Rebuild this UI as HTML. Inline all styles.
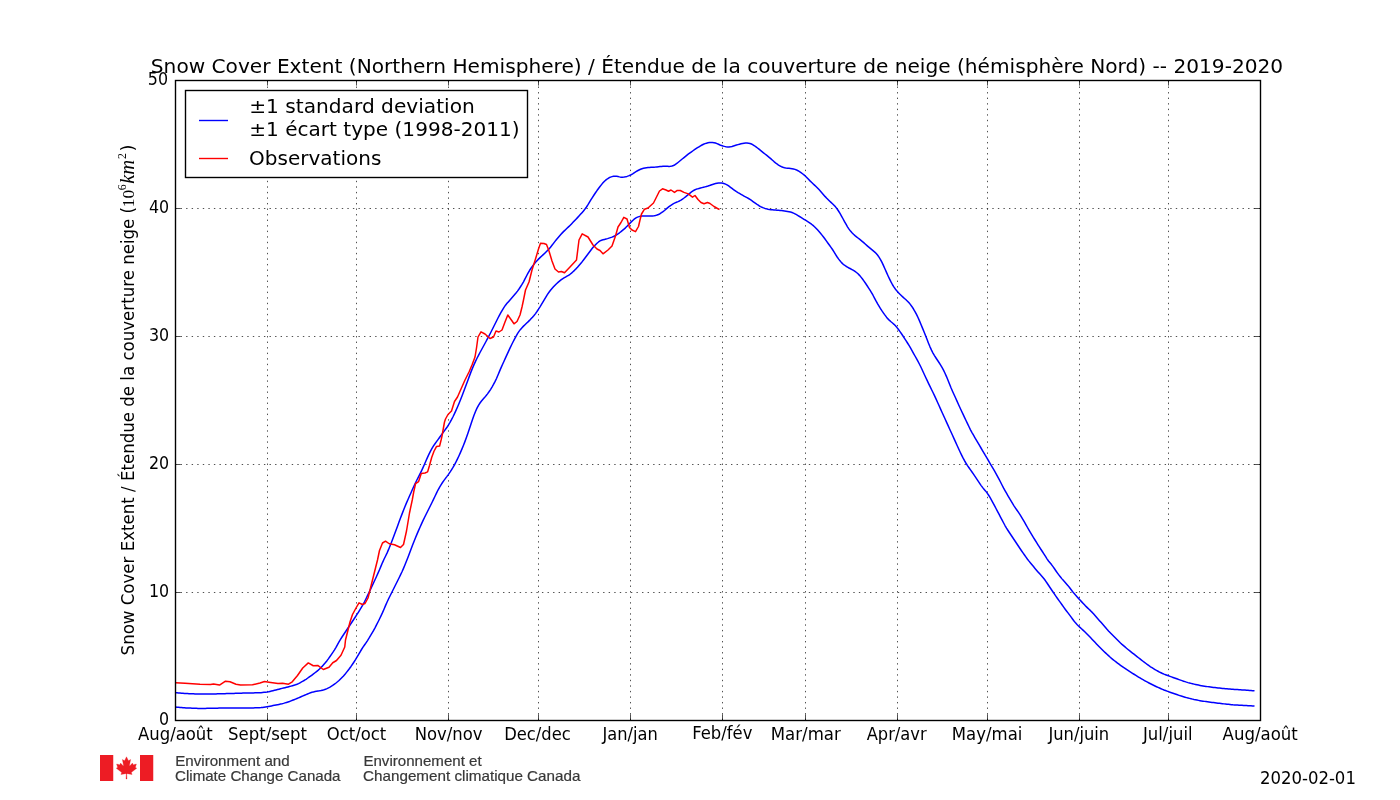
<!DOCTYPE html>
<html lang="en"><head><meta charset="utf-8"><title>Snow Cover Extent (Northern Hemisphere) 2019-2020</title>
<style>
html,body{margin:0;padding:0;background:#fff;}
body{width:1400px;height:800px;overflow:hidden;}
svg{display:block;}
.dv{font-family:"DejaVu Sans","Liberation Sans",sans-serif;fill:#000;}
.tk{font-size:17.8px;}
.ti{font-size:20px;}
.lg{font-size:20px;}
.ms{font-family:"Liberation Serif","DejaVu Serif",serif;}
.ft{font-family:"Liberation Sans","DejaVu Sans",sans-serif;font-size:14.8px;fill:#383838;stroke:#383838;stroke-width:0.2px;}
</style></head><body>
<svg width="1400" height="800" viewBox="0 0 1400 800">
<rect width="1400" height="800" fill="#fff"/>
<defs><clipPath id="ax"><rect x="175" y="80" width="1085" height="640"/></clipPath></defs>
<g stroke="#000" stroke-width="0.69" stroke-dasharray="1.39 4.17" fill="none">
<path d="M267.5 720V80" stroke-dasharray="1.389 4.1555"/>
<path d="M356.5 720V80" stroke-dasharray="1.389 4.1555"/>
<path d="M448.5 720V80" stroke-dasharray="1.389 4.1555"/>
<path d="M538.5 720V80" stroke-dasharray="1.389 4.1555"/>
<path d="M630.5 720V80" stroke-dasharray="1.389 4.1555"/>
<path d="M722.5 720V80" stroke-dasharray="1.389 4.1555"/>
<path d="M805.5 720V80" stroke-dasharray="1.389 4.1555"/>
<path d="M897.5 720V80" stroke-dasharray="1.389 4.1555"/>
<path d="M987.5 720V80" stroke-dasharray="1.389 4.1555"/>
<path d="M1079.5 720V80" stroke-dasharray="1.389 4.1555"/>
<path d="M1168.5 720V80" stroke-dasharray="1.389 4.1555"/>
<path d="M175 592.5H1260"/>
<path d="M175 464.5H1260"/>
<path d="M175 336.5H1260"/>
<path d="M175 208.5H1260"/>
</g>
<g clip-path="url(#ax)" fill="none" stroke-width="1.5" stroke-linejoin="round">
<path stroke="#00f" d="M175.5 692.7 L177 692.83 L178.5 692.95 L180 693.08 L181.5 693.21 L183 693.33 L184.5 693.44 L186 693.53 L187.5 693.6 L189 693.66 L190.5 693.72 L192 693.78 L193.5 693.84 L195 693.9 L196.5 693.96 L198 694.02 L199.5 694.06 L201 694.08 L202.5 694.07 L204 694.06 L205.5 694.04 L207 694.03 L208.5 694.01 L210 694 L211.5 693.98 L213 693.97 L214.5 693.95 L216 693.92 L217.5 693.87 L219 693.83 L220.5 693.78 L222 693.74 L223.5 693.69 L225 693.65 L226.5 693.61 L228 693.56 L229.5 693.52 L231 693.47 L232.5 693.42 L234 693.38 L235.5 693.33 L237 693.29 L238.5 693.25 L240 693.2 L241.5 693.16 L243 693.11 L244.5 693.07 L246 693.03 L247.5 693 L249 692.97 L250.5 692.94 L252 692.91 L253.5 692.88 L255 692.85 L256.5 692.82 L258 692.79 L259.5 692.73 L261 692.63 L262.5 692.5 L264 692.35 L265.5 692.19 L267 692 L268.5 691.73 L270 691.4 L271.5 691.04 L273 690.68 L274.5 690.31 L276 689.94 L277.5 689.55 L279 689.16 L280.5 688.77 L282 688.39 L283.5 688.01 L285 687.65 L286.5 687.29 L288 686.93 L289.5 686.55 L291 686.14 L292.5 685.7 L294 685.25 L295.5 684.78 L297 684.25 L298.5 683.58 L300 682.79 L301.5 681.96 L303 681.11 L304.5 680.23 L306 679.27 L307.5 678.25 L309 677.2 L310.5 676.14 L312 675.06 L313.5 673.93 L315 672.75 L316.5 671.55 L318 670.33 L319.5 669.02 L321 667.53 L322.5 665.89 L324 664.19 L325.5 662.46 L327 660.65 L328.5 658.67 L330 656.54 L331.5 654.36 L333 652.15 L334.5 649.83 L336 647.31 L337.5 644.62 L339 641.93 L340.5 639.38 L342 637.02 L343.5 634.75 L345 632.5 L346.5 630.25 L348 628 L349.5 625.75 L351 623.5 L352.5 621.25 L354 619 L355.5 616.75 L357 614.46 L358.5 612.1 L360 609.66 L361.5 607.15 L363 604.57 L364.5 601.79 L366 598.77 L367.5 595.65 L369 592.5 L370.5 589.35 L372 586.19 L373.5 583.01 L375 579.78 L376.5 576.49 L378 573.15 L379.5 569.69 L381 566.11 L382.5 562.57 L384 559.28 L385.5 556.24 L387 553.12 L388.5 549.67 L390 545.99 L391.5 542.22 L393 538.35 L394.5 534.34 L396 530.25 L397.5 526.14 L399 522.07 L400.5 518.08 L402 514.13 L403.5 510.23 L405 506.46 L406.5 502.89 L408 499.45 L409.5 496.06 L411 492.68 L412.5 489.3 L414 485.97 L415.5 482.77 L417 479.75 L418.5 476.81 L420 473.87 L421.5 470.82 L423 467.61 L424.5 464.27 L426 460.82 L427.5 457.34 L429 454.07 L430.5 451.1 L432 448.38 L433.5 445.91 L435 443.71 L436.5 441.66 L438 439.61 L439.5 437.52 L441 435.43 L442.5 433.36 L444 431.34 L445.5 429.32 L447 427.23 L448.5 424.92 L450 422.37 L451.5 419.65 L453 416.76 L454.5 413.65 L456 410.38 L457.5 406.99 L459 403.43 L460.5 399.72 L462 395.9 L463.5 391.98 L465 388 L466.5 383.99 L468 379.95 L469.5 375.88 L471 371.87 L472.5 368.11 L474 364.64 L475.5 361.35 L477 358.22 L478.5 355.29 L480 352.5 L481.5 349.75 L483 347 L484.5 344.25 L486 341.5 L487.5 338.73 L489 335.9 L490.5 332.98 L492 330 L493.5 327 L495 324 L496.5 321 L498 318.02 L499.5 315.11 L501 312.37 L502.5 309.78 L504 307.33 L505.5 305.18 L507 303.34 L508.5 301.65 L510 299.97 L511.5 298.28 L513 296.57 L514.5 294.85 L516 293.06 L517.5 291.12 L519 288.98 L520.5 286.73 L522 284.39 L523.5 281.81 L525 278.97 L526.5 276.01 L528 273.13 L529.5 270.53 L531 268.24 L532.5 266.14 L534 264.17 L535.5 262.37 L537 260.69 L538.5 259.12 L540 257.66 L541.5 256.27 L543 254.89 L544.5 253.47 L546 251.99 L547.5 250.49 L549 248.93 L550.5 247.21 L552 245.31 L553.5 243.34 L555 241.37 L556.5 239.48 L558 237.68 L559.5 235.92 L561 234.22 L562.5 232.62 L564 231.14 L565.5 229.72 L567 228.31 L568.5 226.89 L570 225.43 L571.5 223.91 L573 222.35 L574.5 220.77 L576 219.2 L577.5 217.62 L579 216.02 L580.5 214.37 L582 212.66 L583.5 210.9 L585 209.06 L586.5 206.98 L588 204.64 L589.5 202.17 L591 199.7 L592.5 197.31 L594 195.01 L595.5 192.76 L597 190.56 L598.5 188.47 L600 186.52 L601.5 184.64 L603 182.85 L604.5 181.27 L606 179.93 L607.5 178.76 L609 177.8 L610.5 177.11 L612 176.63 L613.5 176.31 L615 176.22 L616.5 176.34 L618 176.57 L619.5 176.88 L621 177.15 L622.5 177.23 L624 177.07 L625.5 176.78 L627 176.4 L628.5 175.91 L630 175.3 L631.5 174.53 L633 173.58 L634.5 172.57 L636 171.62 L637.5 170.77 L639 170.01 L640.5 169.29 L642 168.7 L643.5 168.29 L645 168.01 L646.5 167.77 L648 167.57 L649.5 167.45 L651 167.37 L652.5 167.3 L654 167.22 L655.5 167.11 L657 166.94 L658.5 166.76 L660 166.58 L661.5 166.41 L663 166.3 L664.5 166.28 L666 166.31 L667.5 166.37 L669 166.4 L670.5 166.33 L672 166.03 L673.5 165.5 L675 164.73 L676.5 163.69 L678 162.49 L679.5 161.25 L681 160.01 L682.5 158.78 L684 157.56 L685.5 156.34 L687 155.13 L688.5 153.95 L690 152.84 L691.5 151.78 L693 150.75 L694.5 149.72 L696 148.71 L697.5 147.73 L699 146.81 L700.5 145.9 L702 145.02 L703.5 144.23 L705 143.62 L706.5 143.17 L708 142.82 L709.5 142.6 L711 142.52 L712.5 142.54 L714 142.7 L715.5 143.06 L717 143.6 L718.5 144.26 L720 144.95 L721.5 145.54 L723 146 L724.5 146.39 L726 146.7 L727.5 146.92 L729 147 L730.5 146.86 L732 146.49 L733.5 146.01 L735 145.53 L736.5 145.08 L738 144.65 L739.5 144.24 L741 143.85 L742.5 143.51 L744 143.22 L745.5 143.03 L747 143.02 L748.5 143.17 L750 143.47 L751.5 144 L753 144.79 L754.5 145.76 L756 146.84 L757.5 148 L759 149.2 L760.5 150.4 L762 151.6 L763.5 152.8 L765 154 L766.5 155.2 L768 156.41 L769.5 157.64 L771 158.92 L772.5 160.25 L774 161.56 L775.5 162.81 L777 163.97 L778.5 165.04 L780 165.97 L781.5 166.69 L783 167.26 L784.5 167.72 L786 168.02 L787.5 168.2 L789 168.34 L790.5 168.5 L792 168.73 L793.5 169.01 L795 169.39 L796.5 169.95 L798 170.73 L799.5 171.63 L801 172.62 L802.5 173.73 L804 174.92 L805.5 176.22 L807 177.69 L808.5 179.29 L810 180.87 L811.5 182.32 L813 183.7 L814.5 185.09 L816 186.52 L817.5 188.01 L819 189.54 L820.5 191.18 L822 192.91 L823.5 194.68 L825 196.38 L826.5 197.98 L828 199.49 L829.5 200.95 L831 202.35 L832.5 203.72 L834 205.18 L835.5 206.84 L837 208.78 L838.5 211 L840 213.44 L841.5 216.03 L843 218.76 L844.5 221.52 L846 224.21 L847.5 226.8 L849 229.13 L850.5 231.1 L852 232.8 L853.5 234.28 L855 235.58 L856.5 236.8 L858 238 L859.5 239.2 L861 240.41 L862.5 241.64 L864 242.92 L865.5 244.25 L867 245.58 L868.5 246.86 L870 248.09 L871.5 249.31 L873 250.55 L874.5 251.84 L876 253.26 L877.5 254.99 L879 257.08 L880.5 259.53 L882 262.42 L883.5 265.65 L885 269 L886.5 272.37 L888 275.69 L889.5 278.9 L891 281.94 L892.5 284.74 L894 287.14 L895.5 289.22 L897 291.11 L898.5 292.81 L900 294.31 L901.5 295.71 L903 297.08 L904.5 298.44 L906 299.8 L907.5 301.21 L909 302.78 L910.5 304.63 L912 306.71 L913.5 309.02 L915 311.56 L916.5 314.35 L918 317.47 L919.5 320.91 L921 324.5 L922.5 328.12 L924 331.73 L925.5 335.45 L927 339.32 L928.5 343.17 L930 346.84 L931.5 350.16 L933 353.05 L934.5 355.62 L936 357.98 L937.5 360.25 L939 362.51 L940.5 364.81 L942 367.3 L943.5 370.1 L945 373.21 L946.5 376.58 L948 380.2 L949.5 383.98 L951 387.71 L952.5 391.19 L954 394.51 L955.5 397.81 L957 401.12 L958.5 404.44 L960 407.75 L961.5 411 L963 414.19 L964.5 417.35 L966 420.5 L967.5 423.65 L969 426.78 L970.5 429.8 L972 432.61 L973.5 435.24 L975 437.8 L976.5 440.35 L978 442.9 L979.5 445.45 L981 448 L982.5 450.55 L984 453.1 L985.5 455.65 L987 458.2 L988.5 460.75 L990 463.3 L991.5 465.85 L993 468.4 L994.5 470.97 L996 473.59 L997.5 476.31 L999 479.13 L1000.5 482.03 L1002 484.99 L1003.5 487.89 L1005 490.63 L1006.5 493.24 L1008 495.8 L1009.5 498.35 L1011 500.9 L1012.5 503.42 L1014 505.83 L1015.5 508.09 L1017 510.25 L1018.5 512.41 L1020 514.67 L1021.5 517.08 L1023 519.61 L1024.5 522.19 L1026 524.82 L1027.5 527.5 L1029 530.16 L1030.5 532.72 L1032 535.19 L1033.5 537.6 L1035 540 L1036.5 542.4 L1038 544.79 L1039.5 547.16 L1041 549.48 L1042.5 551.76 L1044 554.06 L1045.5 556.47 L1047 558.86 L1048.5 560.96 L1050 562.78 L1051.5 564.59 L1053 566.59 L1054.5 568.76 L1056 570.96 L1057.5 573.07 L1059 575.09 L1060.5 577.02 L1062 578.87 L1063.5 580.6 L1065 582.25 L1066.5 583.91 L1068 585.65 L1069.5 587.53 L1071 589.5 L1072.5 591.47 L1074 593.35 L1075.5 595.09 L1077 596.75 L1078.5 598.37 L1080 600 L1081.5 601.62 L1083 603.25 L1084.5 604.85 L1086 606.4 L1087.5 607.85 L1089 609.25 L1090.5 610.66 L1092 612.15 L1093.5 613.78 L1095 615.5 L1096.5 617.24 L1098 618.96 L1099.5 620.64 L1101 622.31 L1102.5 624 L1104 625.75 L1105.5 627.55 L1107 629.31 L1108.5 630.95 L1110 632.49 L1111.5 634 L1113 635.5 L1114.5 637 L1116 638.5 L1117.5 640 L1119 641.49 L1120.5 642.95 L1122 644.33 L1123.5 645.64 L1125 646.93 L1126.5 648.21 L1128 649.46 L1129.5 650.67 L1131 651.86 L1132.5 653.04 L1134 654.21 L1135.5 655.39 L1137 656.57 L1138.5 657.75 L1140 658.93 L1141.5 660.09 L1143 661.24 L1144.5 662.37 L1146 663.5 L1147.5 664.62 L1149 665.72 L1150.5 666.76 L1152 667.72 L1153.5 668.65 L1155 669.56 L1156.5 670.45 L1158 671.27 L1159.5 672.05 L1161 672.79 L1162.5 673.5 L1164 674.14 L1165.5 674.71 L1167 675.27 L1168.5 675.81 L1170 676.36 L1171.5 676.89 L1173 677.43 L1174.5 677.97 L1176 678.51 L1177.5 679.06 L1179 679.62 L1180.5 680.15 L1182 680.66 L1183.5 681.17 L1185 681.66 L1186.5 682.15 L1188 682.6 L1189.5 683 L1191 683.39 L1192.5 683.77 L1194 684.13 L1195.5 684.48 L1197 684.8 L1198.5 685.1 L1200 685.4 L1201.5 685.69 L1203 685.95 L1204.5 686.19 L1206 686.41 L1207.5 686.63 L1209 686.85 L1210.5 687.05 L1212 687.24 L1213.5 687.42 L1215 687.6 L1216.5 687.78 L1218 687.94 L1219.5 688.1 L1221 688.25 L1222.5 688.4 L1224 688.55 L1225.5 688.68 L1227 688.81 L1228.5 688.93 L1230 689.05 L1231.5 689.17 L1233 689.28 L1234.5 689.4 L1236 689.51 L1237.5 689.62 L1239 689.72 L1240.5 689.82 L1242 689.91 L1243.5 689.99 L1245 690.07 L1246.5 690.16 L1248 690.26 L1249.5 690.39 L1251 690.54 L1252.5 690.68 L1254 690.82 L1254.5 690.87"/>
<path stroke="#00f" d="M175.5 707 L177 707.14 L178.5 707.28 L180 707.43 L181.5 707.57 L183 707.71 L184.5 707.83 L186 707.93 L187.5 708 L189 708.06 L190.5 708.12 L192 708.18 L193.5 708.24 L195 708.3 L196.5 708.36 L198 708.42 L199.5 708.46 L201 708.47 L202.5 708.45 L204 708.42 L205.5 708.39 L207 708.36 L208.5 708.33 L210 708.3 L211.5 708.27 L213 708.24 L214.5 708.21 L216 708.18 L217.5 708.15 L219 708.12 L220.5 708.09 L222 708.06 L223.5 708.03 L225 708 L226.5 707.97 L228 707.94 L229.5 707.92 L231 707.92 L232.5 707.93 L234 707.94 L235.5 707.96 L237 707.97 L238.5 707.98 L240 708 L241.5 708.01 L243 708.03 L244.5 708.03 L246 708.02 L247.5 708 L249 707.97 L250.5 707.94 L252 707.91 L253.5 707.88 L255 707.85 L256.5 707.82 L258 707.78 L259.5 707.71 L261 707.58 L262.5 707.4 L264 707.19 L265.5 706.98 L267 706.75 L268.5 706.49 L270 706.2 L271.5 705.9 L273 705.6 L274.5 705.3 L276 705 L277.5 704.7 L279 704.4 L280.5 704.09 L282 703.75 L283.5 703.35 L285 702.9 L286.5 702.42 L288 701.94 L289.5 701.43 L291 700.88 L292.5 700.3 L294 699.7 L295.5 699.1 L297 698.48 L298.5 697.85 L300 697.2 L301.5 696.54 L303 695.88 L304.5 695.24 L306 694.61 L307.5 694 L309 693.4 L310.5 692.81 L312 692.29 L313.5 691.89 L315 691.61 L316.5 691.36 L318 691.11 L319.5 690.85 L321 690.53 L322.5 690.17 L324 689.78 L325.5 689.31 L327 688.68 L328.5 687.92 L330 687.09 L331.5 686.2 L333 685.21 L334.5 684.12 L336 682.98 L337.5 681.78 L339 680.44 L340.5 678.99 L342 677.48 L343.5 675.91 L345 674.19 L346.5 672.37 L348 670.48 L349.5 668.53 L351 666.44 L352.5 664.24 L354 661.98 L355.5 659.66 L357 657.19 L358.5 654.62 L360 652.02 L361.5 649.5 L363 647.16 L364.5 644.97 L366 642.82 L367.5 640.6 L369 638.22 L370.5 635.71 L372 633.14 L373.5 630.54 L375 627.83 L376.5 624.97 L378 622 L379.5 618.99 L381 615.91 L382.5 612.65 L384 609.18 L385.5 605.65 L387 602.24 L388.5 599.05 L390 596 L391.5 593 L393 590 L394.5 587 L396 584 L397.5 581 L399 578 L400.5 574.95 L402 571.76 L403.5 568.35 L405 564.77 L406.5 561.07 L408 557.18 L409.5 553.15 L411 549.15 L412.5 545.28 L414 541.51 L415.5 537.78 L417 534.15 L418.5 530.66 L420 527.26 L421.5 523.91 L423 520.65 L424.5 517.53 L426 514.5 L427.5 511.5 L429 508.5 L430.5 505.5 L432 502.48 L433.5 499.4 L435 496.24 L436.5 493.07 L438 490.04 L439.5 487.31 L441 484.84 L442.5 482.52 L444 480.35 L445.5 478.35 L447 476.4 L448.5 474.35 L450 472.13 L451.5 469.8 L453 467.38 L454.5 464.79 L456 461.95 L457.5 458.94 L459 455.77 L460.5 452.41 L462 448.88 L463.5 445.21 L465 441.39 L466.5 437.31 L468 432.97 L469.5 428.5 L471 424.01 L472.5 419.57 L474 415.34 L475.5 411.49 L477 408.1 L478.5 405.3 L480 403.03 L481.5 401.08 L483 399.32 L484.5 397.62 L486 395.82 L487.5 393.86 L489 391.77 L490.5 389.55 L492 387.11 L493.5 384.47 L495 381.64 L496.5 378.49 L498 374.98 L499.5 371.36 L501 367.87 L502.5 364.51 L504 361.2 L505.5 357.9 L507 354.6 L508.5 351.32 L510 348.12 L511.5 345.03 L513 342.02 L514.5 339.09 L516 336.31 L517.5 333.71 L519 331.37 L520.5 329.39 L522 327.68 L523.5 326.12 L525 324.68 L526.5 323.29 L528 321.88 L529.5 320.4 L531 318.82 L532.5 317.2 L534 315.49 L535.5 313.59 L537 311.47 L538.5 309.22 L540 306.85 L541.5 304.35 L543 301.78 L544.5 299.26 L546 296.81 L547.5 294.45 L549 292.26 L550.5 290.3 L552 288.51 L553.5 286.79 L555 285.18 L556.5 283.75 L558 282.43 L559.5 281.15 L561 279.92 L562.5 278.83 L564 277.89 L565.5 277.03 L567 276.18 L568.5 275.3 L570 274.29 L571.5 273.08 L573 271.74 L574.5 270.34 L576 268.85 L577.5 267.22 L579 265.5 L580.5 263.73 L582 261.9 L583.5 259.98 L585 258 L586.5 256 L588 254 L589.5 252 L591 250 L592.5 248.05 L594 246.25 L595.5 244.68 L597 243.26 L598.5 241.96 L600 240.9 L601.5 240.22 L603 239.78 L604.5 239.41 L606 239.02 L607.5 238.6 L609 238.14 L610.5 237.65 L612 237.14 L613.5 236.54 L615 235.76 L616.5 234.82 L618 233.82 L619.5 232.77 L621 231.63 L622.5 230.41 L624 229.15 L625.5 227.82 L627 226.34 L628.5 224.75 L630 223.14 L631.5 221.63 L633 220.22 L634.5 218.92 L636 217.86 L637.5 217.12 L639 216.63 L640.5 216.26 L642 216.07 L643.5 216.01 L645 216 L646.5 216.01 L648 216.04 L649.5 216.08 L651 216.11 L652.5 216.06 L654 215.85 L655.5 215.48 L657 215.04 L658.5 214.48 L660 213.71 L661.5 212.73 L663 211.65 L664.5 210.47 L666 209.19 L667.5 207.88 L669 206.64 L670.5 205.54 L672 204.54 L673.5 203.63 L675 202.88 L676.5 202.25 L678 201.65 L679.5 200.97 L681 200.1 L682.5 199.09 L684 197.99 L685.5 196.82 L687 195.57 L688.5 194.31 L690 193.09 L691.5 191.97 L693 190.93 L694.5 190.01 L696 189.33 L697.5 188.85 L699 188.43 L700.5 188.04 L702 187.64 L703.5 187.26 L705 186.87 L706.5 186.47 L708 186.04 L709.5 185.54 L711 185 L712.5 184.47 L714 183.99 L715.5 183.59 L717 183.26 L718.5 183.02 L720 182.93 L721.5 183 L723 183.23 L724.5 183.68 L726 184.35 L727.5 185.17 L729 186.17 L730.5 187.3 L732 188.44 L733.5 189.54 L735 190.59 L736.5 191.61 L738 192.56 L739.5 193.45 L741 194.33 L742.5 195.19 L744 196.03 L745.5 196.86 L747 197.67 L748.5 198.51 L750 199.42 L751.5 200.43 L753 201.52 L754.5 202.62 L756 203.69 L757.5 204.74 L759 205.73 L760.5 206.59 L762 207.28 L763.5 207.88 L765 208.41 L766.5 208.84 L768 209.21 L769.5 209.52 L771 209.73 L772.5 209.87 L774 209.99 L775.5 210.09 L777 210.21 L778.5 210.33 L780 210.46 L781.5 210.59 L783 210.73 L784.5 210.91 L786 211.14 L787.5 211.39 L789 211.67 L790.5 212.05 L792 212.53 L793.5 213.12 L795 213.86 L796.5 214.71 L798 215.6 L799.5 216.51 L801 217.42 L802.5 218.34 L804 219.27 L805.5 220.19 L807 221.13 L808.5 222.08 L810 223.1 L811.5 224.22 L813 225.42 L814.5 226.71 L816 228.17 L817.5 229.76 L819 231.44 L820.5 233.23 L822 235.11 L823.5 237.06 L825 239.06 L826.5 241.11 L828 243.2 L829.5 245.28 L831 247.34 L832.5 249.49 L834 251.84 L835.5 254.33 L837 256.73 L838.5 258.89 L840 260.86 L841.5 262.62 L843 264.07 L844.5 265.23 L846 266.25 L847.5 267.17 L849 267.99 L850.5 268.75 L852 269.54 L853.5 270.43 L855 271.42 L856.5 272.51 L858 273.8 L859.5 275.36 L861 277.12 L862.5 279.01 L864 281.07 L865.5 283.26 L867 285.52 L868.5 287.84 L870 290.21 L871.5 292.65 L873 295.24 L874.5 298.04 L876 300.92 L877.5 303.65 L879 306.17 L880.5 308.57 L882 310.88 L883.5 313.07 L885 315.17 L886.5 317.15 L888 318.9 L889.5 320.41 L891 321.76 L892.5 323.01 L894 324.31 L895.5 325.84 L897 327.63 L898.5 329.58 L900 331.62 L901.5 333.77 L903 336.01 L904.5 338.29 L906 340.62 L907.5 343.01 L909 345.44 L910.5 347.98 L912 350.61 L913.5 353.3 L915 356 L916.5 358.7 L918 361.42 L919.5 364.25 L921 367.29 L922.5 370.51 L924 373.78 L925.5 377.01 L927 380.19 L928.5 383.34 L930 386.44 L931.5 389.49 L933 392.54 L934.5 395.68 L936 398.92 L937.5 402.23 L939 405.55 L940.5 408.88 L942 412.2 L943.5 415.5 L945 418.8 L946.5 422.1 L948 425.4 L949.5 428.7 L951 432 L952.5 435.3 L954 438.6 L955.5 441.9 L957 445.2 L958.5 448.49 L960 451.76 L961.5 454.92 L963 457.91 L964.5 460.7 L966 463.25 L967.5 465.6 L969 467.78 L970.5 469.91 L972 472.03 L973.5 474.19 L975 476.37 L976.5 478.57 L978 480.82 L979.5 483.1 L981 485.34 L982.5 487.38 L984 489.18 L985.5 490.91 L987 492.81 L988.5 495.01 L990 497.44 L991.5 500.05 L993 502.82 L994.5 505.65 L996 508.5 L997.5 511.35 L999 514.2 L1000.5 517.05 L1002 519.9 L1003.5 522.74 L1005 525.51 L1006.5 528.1 L1008 530.48 L1009.5 532.75 L1011 535 L1012.5 537.25 L1014 539.5 L1015.5 541.75 L1017 544 L1018.5 546.25 L1020 548.49 L1021.5 550.72 L1023 552.9 L1024.5 555.04 L1026 557.15 L1027.5 559.21 L1029 561.15 L1030.5 562.99 L1032 564.8 L1033.5 566.6 L1035 568.4 L1036.5 570.19 L1038 571.93 L1039.5 573.61 L1041 575.25 L1042.5 576.93 L1044 578.75 L1045.5 580.8 L1047 583 L1048.5 585.25 L1050 587.5 L1051.5 589.75 L1053 591.98 L1054.5 594.18 L1056 596.33 L1057.5 598.46 L1059 600.58 L1060.5 602.69 L1062 604.8 L1063.5 606.89 L1065 608.94 L1066.5 610.94 L1068 612.9 L1069.5 614.89 L1071 616.92 L1072.5 618.99 L1074 621.01 L1075.5 622.85 L1077 624.47 L1078.5 625.98 L1080 627.4 L1081.5 628.75 L1083 630.1 L1084.5 631.52 L1086 633 L1087.5 634.5 L1089 636.02 L1090.5 637.56 L1092 639.15 L1093.5 640.75 L1095 642.35 L1096.5 643.94 L1098 645.48 L1099.5 647 L1101 648.5 L1102.5 649.99 L1104 651.46 L1105.5 652.88 L1107 654.28 L1108.5 655.67 L1110 657.04 L1111.5 658.34 L1113 659.56 L1114.5 660.75 L1116 661.92 L1117.5 663.08 L1119 664.2 L1120.5 665.28 L1122 666.36 L1123.5 667.42 L1125 668.46 L1126.5 669.46 L1128 670.43 L1129.5 671.39 L1131 672.35 L1132.5 673.31 L1134 674.25 L1135.5 675.19 L1137 676.12 L1138.5 677.05 L1140 677.96 L1141.5 678.84 L1143 679.69 L1144.5 680.53 L1146 681.37 L1147.5 682.2 L1149 682.99 L1150.5 683.75 L1152 684.5 L1153.5 685.25 L1155 685.99 L1156.5 686.7 L1158 687.37 L1159.5 688.03 L1161 688.69 L1162.5 689.34 L1164 689.96 L1165.5 690.54 L1167 691.1 L1168.5 691.65 L1170 692.19 L1171.5 692.72 L1173 693.25 L1174.5 693.77 L1176 694.3 L1177.5 694.82 L1179 695.34 L1180.5 695.83 L1182 696.28 L1183.5 696.73 L1185 697.17 L1186.5 697.6 L1188 698.01 L1189.5 698.39 L1191 698.76 L1192.5 699.13 L1194 699.49 L1195.5 699.81 L1197 700.11 L1198.5 700.38 L1200 700.65 L1201.5 700.91 L1203 701.15 L1204.5 701.38 L1206 701.59 L1207.5 701.8 L1209 702.01 L1210.5 702.21 L1212 702.4 L1213.5 702.59 L1215 702.78 L1216.5 702.97 L1218 703.16 L1219.5 703.34 L1221 703.52 L1222.5 703.7 L1224 703.88 L1225.5 704.05 L1227 704.21 L1228.5 704.37 L1230 704.53 L1231.5 704.68 L1233 704.81 L1234.5 704.9 L1236 704.99 L1237.5 705.07 L1239 705.15 L1240.5 705.23 L1242 705.31 L1243.5 705.39 L1245 705.47 L1246.5 705.55 L1248 705.64 L1249.5 705.74 L1251 705.84 L1252.5 705.94 L1254 706.05 L1254.5 706.08"/>
<path stroke="#f00" d="M175.5 682.7 L185 683.3 L200 684.2 L210.5 684.5 L213.5 683.9 L219.5 685.1 L225.5 681.2 L230 681.8 L236 684.2 L240.5 684.95 L252.5 684.8 L260 683 L264.5 681.5 L269 682.25 L278 683.6 L282.5 683.3 L288.5 684.2 L292.25 681.8 L297.5 675.5 L302.75 668 L308.3 662.9 L313.25 665.75 L317.75 665.45 L323.3 669.5 L329 667.25 L332.75 662.75 L336.5 660.5 L341 655.25 L344.75 647 L345.5 640 L348 630 L350 622 L352.5 614.5 L356 608 L359 602.8 L362.5 604.5 L365 603.5 L368 598 L370 590 L373 578 L375.5 568 L377.5 560 L379.5 550.5 L382.5 543 L385.5 541.2 L389.25 543.75 L394.5 544.8 L400.5 547.5 L403.5 544.5 L406.5 531 L409.5 513 L412.25 500 L413.75 491.75 L415.6 483.5 L418.6 481.6 L421.25 473.4 L425 473 L427.6 471.9 L429.5 465.5 L431.75 457.25 L434 451.25 L436.6 446.4 L439.6 446 L441.1 440 L442 436 L444.5 422 L445.5 419 L448 414.5 L451.5 411 L454.5 401.5 L457.5 397 L461 389 L465 380 L469 372 L472 365 L475 357 L476.5 348 L478 337 L481 331.8 L485 334 L490 338.5 L493.5 337 L496 331 L499 332 L502 330 L505 322 L507.8 315 L511 319.5 L514 323.8 L517 321.5 L520 315 L522 307 L523.5 300 L525.5 290 L529 282 L532 270 L535.5 259 L538.5 249 L540.5 243.2 L544 243.5 L546.5 244.5 L549 251 L552 261 L555 269 L558.5 272 L561.5 271.5 L564.5 272.8 L570 267 L576.5 260 L579 240 L582.2 233.8 L588 237 L593 245 L597 249 L600 250.5 L603 253.8 L608 250 L612 246 L615.5 236 L618 227 L621 222.5 L623.8 217.3 L627 219 L629.5 227.5 L632 230 L635.5 231.7 L638.5 226.5 L640 220 L641.5 214 L644.5 209.2 L648 208 L653.5 203 L656.5 197 L659.5 191 L662.5 188.8 L666 190 L668.5 191.2 L671 190 L674.5 192.4 L677.3 190.4 L680.3 190.5 L684 192.4 L688.3 193.9 L692.5 197.2 L695 195.5 L698 199.5 L701 202.5 L704 203.8 L707.5 202.5 L710 203.5 L714 206.5 L717.5 208.5 L719.5 209.5"/>
</g>
<rect x="175.5" y="80.5" width="1085" height="640" fill="none" stroke="#000" stroke-width="1.39"/>
<g stroke="#000" stroke-width="0.69">
<path d="M175.5 720v-5.56 M175.5 80v5.56"/>
<path d="M267.5 720v-5.56 M267.5 80v5.56"/>
<path d="M356.5 720v-5.56 M356.5 80v5.56"/>
<path d="M448.5 720v-5.56 M448.5 80v5.56"/>
<path d="M538.5 720v-5.56 M538.5 80v5.56"/>
<path d="M630.5 720v-5.56 M630.5 80v5.56"/>
<path d="M722.5 720v-5.56 M722.5 80v5.56"/>
<path d="M805.5 720v-5.56 M805.5 80v5.56"/>
<path d="M897.5 720v-5.56 M897.5 80v5.56"/>
<path d="M987.5 720v-5.56 M987.5 80v5.56"/>
<path d="M1079.5 720v-5.56 M1079.5 80v5.56"/>
<path d="M1168.5 720v-5.56 M1168.5 80v5.56"/>
<path d="M1260.5 720v-5.56 M1260.5 80v5.56"/>
<path d="M175 720.5h5.56 M1260 720.5h-5.56"/>
<path d="M175 592.5h5.56 M1260 592.5h-5.56"/>
<path d="M175 464.5h5.56 M1260 464.5h-5.56"/>
<path d="M175 336.5h5.56 M1260 336.5h-5.56"/>
<path d="M175 208.5h5.56 M1260 208.5h-5.56"/>
<path d="M175 80.5h5.56 M1260 80.5h-5.56"/>
</g>
<g class="dv tk">
<text x="137.95" y="739.8" textLength="74.85" lengthAdjust="spacingAndGlyphs">Aug/août</text>
<text x="227.95" y="739.8" textLength="79.1" lengthAdjust="spacingAndGlyphs">Sept/sept</text>
<text x="326.7" y="739.8" textLength="59.6" lengthAdjust="spacingAndGlyphs">Oct/oct</text>
<text x="414.7" y="739.8" textLength="67.85" lengthAdjust="spacingAndGlyphs">Nov/nov</text>
<text x="504.2" y="739.8" textLength="66.6" lengthAdjust="spacingAndGlyphs">Dec/dec</text>
<text x="602.4" y="739.8" textLength="55.3" lengthAdjust="spacingAndGlyphs">Jan/jan</text>
<text x="692.2" y="738.6" textLength="60.2" lengthAdjust="spacingAndGlyphs">Feb/fév</text>
<text x="770.8" y="739.8" textLength="70" lengthAdjust="spacingAndGlyphs">Mar/mar</text>
<text x="866.7" y="739.8" textLength="60" lengthAdjust="spacingAndGlyphs">Apr/avr</text>
<text x="951.8" y="739.8" textLength="70.6" lengthAdjust="spacingAndGlyphs">May/mai</text>
<text x="1048.4" y="739.8" textLength="60.8" lengthAdjust="spacingAndGlyphs">Jun/juin</text>
<text x="1143" y="739.8" textLength="49.6" lengthAdjust="spacingAndGlyphs">Jul/juil</text>
<text x="1222.6" y="739.8" textLength="75.2" lengthAdjust="spacingAndGlyphs">Aug/août</text>
</g>
<g class="dv tk" text-anchor="end">
<text x="169.2" y="724.9" textLength="10.1" lengthAdjust="spacingAndGlyphs">0</text>
<text x="169.2" y="596.9" textLength="20.2" lengthAdjust="spacingAndGlyphs">10</text>
<text x="169.2" y="468.9" textLength="20.2" lengthAdjust="spacingAndGlyphs">20</text>
<text x="169.2" y="340.9" textLength="20.2" lengthAdjust="spacingAndGlyphs">30</text>
<text x="169.2" y="212.9" textLength="20.2" lengthAdjust="spacingAndGlyphs">40</text>
<text x="168.0" y="84.9" textLength="20.2" lengthAdjust="spacingAndGlyphs">50</text>
</g>
<text class="dv ti" x="717" y="73.2" text-anchor="middle" textLength="1132.3" lengthAdjust="spacingAndGlyphs">Snow Cover Extent (Northern Hemisphere) / Étendue de la couverture de neige (hémisphère Nord) -- 2019-2020</text>
<g class="dv tk" transform="translate(133.9 0) rotate(-90)">
<text x="-655.4" y="0" textLength="448.5" lengthAdjust="spacingAndGlyphs">Snow Cover Extent / Étendue de la couverture neige (</text>
<text x="-207.3" y="0" class="ms" font-size="17.4px">10</text>
<text x="-190.3" y="-7.6" class="ms" font-size="11.8px">6</text>
<text x="-183.8" y="0" class="ms" font-size="20.6px" font-style="italic">km</text>
<text x="-159" y="-7.6" class="ms" font-size="11.8px">2</text>
<text x="-151.6" y="0">)</text>
</g>
<rect x="185.5" y="90.5" width="342" height="87" fill="#fff" stroke="#000" stroke-width="1.39"/>
<path d="M199 120.5H228" stroke="#00f" stroke-width="1.39"/>
<path d="M199 158.5H228" stroke="#f00" stroke-width="1.39"/>
<text class="dv lg" x="249.2" y="112.6" textLength="225.6" lengthAdjust="spacingAndGlyphs">±1 standard deviation</text>
<text class="dv lg" x="249.2" y="135.8" textLength="270.4" lengthAdjust="spacingAndGlyphs">±1 écart type (1998-2011)</text>
<text class="dv lg" x="249.1" y="164.5">Observations</text>
<text class="dv tk" x="1259.9" y="784.2" textLength="96" lengthAdjust="spacingAndGlyphs">2020-02-01</text>
<g fill="#ed1c24">
<rect x="100" y="755" width="13.25" height="26"/>
<rect x="140" y="755" width="13.25" height="26"/>
<path transform="translate(100.1 754.6) scale(0.0055)" stroke="#ed1c24" stroke-width="55" stroke-linejoin="miter" d="M4890 4430l-45-863a95 95 0 0 1 111-98l859 151-116-320a65 65 0 0 1 20-73l941-762-212-99a65 65 0 0 1-34-79l186-572-542 115a65 65 0 0 1-73-38l-105-247-423 454a65 65 0 0 1-111-57l204-1052-327 189a65 65 0 0 1-91-27l-332-652-332 652a65 65 0 0 1-91 27l-327-189 204 1052a65 65 0 0 1-111 57l-423-454-105 247a65 65 0 0 1-73 38l-542-115 186 572a65 65 0 0 1-34 79l-212 99 941 762a65 65 0 0 1 20 73l-116 320 859-151a95 95 0 0 1 111 98l-45 863z"/>
</g>
<text class="ft" x="175.2" y="765.6" textLength="114.5" lengthAdjust="spacingAndGlyphs">Environment and</text>
<text class="ft" x="175" y="780.9" textLength="165.5" lengthAdjust="spacingAndGlyphs">Climate Change Canada</text>
<text class="ft" x="363.4" y="765.6" textLength="118.3" lengthAdjust="spacingAndGlyphs">Environnement et</text>
<text class="ft" x="363.1" y="780.9" textLength="217.3" lengthAdjust="spacingAndGlyphs">Changement climatique Canada</text>
</svg></body></html>
